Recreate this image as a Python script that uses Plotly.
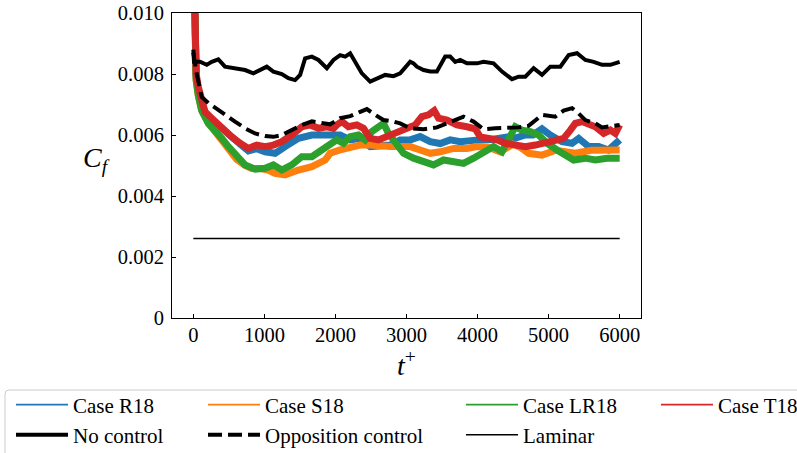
import plotly.graph_objects as go

# ---- skin-friction histories C_f(t+) ----
t_nc = [0, 10, 94, 189, 259, 352, 446, 587, 728, 845, 939, 1034, 1127, 1245, 1338, 1432,
        1503, 1573, 1668, 1761, 1879, 1972, 2066, 2137, 2207, 2277, 2372, 2489, 2583, 2700,
        2817, 2911, 3052, 3099, 3146, 3240, 3334, 3428, 3545, 3615, 3686, 3756, 3850, 3991,
        4085, 4225, 4344, 4485, 4577, 4672, 4789, 4907, 5024, 5165, 5282, 5400, 5517, 5634,
        5752, 5869, 6000]
cf_nc = [0.0088, 0.0084, 0.0084, 0.0083, 0.0084, 0.00848, 0.00824, 0.00819, 0.00813, 0.00802,
         0.00813, 0.00824, 0.00808, 0.0080, 0.00786, 0.0078, 0.00797, 0.00851, 0.00857, 0.00846,
         0.00819, 0.00846, 0.00862, 0.00857, 0.00868, 0.0084, 0.00802, 0.00775, 0.00786, 0.00797,
         0.00793, 0.00802, 0.0084, 0.00835, 0.00824, 0.00813, 0.00808, 0.00808, 0.00857, 0.00857,
         0.0084, 0.00846, 0.00835, 0.00835, 0.0084, 0.00835, 0.00808, 0.00783, 0.00791, 0.00791,
         0.00819, 0.00797, 0.00824, 0.00824, 0.00862, 0.00868, 0.00846, 0.0084, 0.0083, 0.0083,
         0.0084]

t_oc = [0, 48, 118, 211, 306, 446, 587, 728, 869, 1010, 1127, 1245, 1386, 1527, 1668, 1808,
        1925, 2066, 2207, 2348, 2442, 2559, 2676, 2817, 2911, 3052, 3240, 3428, 3615, 3803,
        3944, 4085, 4249, 4390, 4577, 4718, 4813, 4907, 5094, 5211, 5330, 5422, 5517, 5658,
        5752, 5893, 6000]
cf_oc = [0.0087, 0.0080, 0.00725, 0.00705, 0.0069, 0.00666, 0.00644, 0.00622, 0.00605, 0.00597,
         0.00594, 0.0060, 0.00616, 0.00633, 0.00645, 0.0064, 0.00635, 0.00655, 0.00662, 0.00676,
         0.00685, 0.00666, 0.00649, 0.00644, 0.00638, 0.00622, 0.00619, 0.00625, 0.00644, 0.0066,
         0.00644, 0.00619, 0.00622, 0.00622, 0.00625, 0.0063, 0.00649, 0.00666, 0.0066, 0.0068,
         0.00688, 0.00671, 0.00649, 0.00638, 0.00625, 0.0063, 0.00633]

t_r18 = [0, 15, 40, 70, 118, 165, 259, 352, 446, 540, 658, 775, 892, 1010, 1151, 1292, 1479,
         1668, 1855, 1972, 2066, 2207, 2348, 2489, 2630, 2770, 2911, 3052, 3193, 3334, 3475,
         3615, 3756, 3897, 4014, 4200, 4437, 4531, 4672, 4780, 4907, 5024, 5188, 5330, 5423,
         5563, 5704, 5845, 6000]
cf_r18 = [0.0128, 0.0087, 0.0079, 0.0075, 0.0070, 0.0067, 0.0065, 0.0063, 0.0061, 0.0059,
          0.0057, 0.00548, 0.00555, 0.00545, 0.0054, 0.00562, 0.00589, 0.0060, 0.0060, 0.00605,
          0.0060, 0.00584, 0.00589, 0.00562, 0.00562, 0.00567, 0.00584, 0.00584, 0.00595, 0.00578,
          0.00572, 0.00584, 0.00578, 0.00584, 0.00584, 0.00585, 0.00594, 0.0059, 0.0060, 0.0060,
          0.0062, 0.0060, 0.00578, 0.00573, 0.00589, 0.00562, 0.00562, 0.00551, 0.00584]

t_s18 = [0, 15, 40, 70, 118, 211, 306, 400, 493, 611, 728, 822, 950, 1050, 1151, 1292, 1479,
         1668, 1855, 1925, 2066, 2207, 2348, 2489, 2630, 2770, 2911, 3052, 3193, 3334, 3475,
         3662, 3850, 3991, 4150, 4320, 4500, 4600, 4718, 4907, 5100, 5376, 5600, 5800, 6000]
cf_s18 = [0.0126, 0.0086, 0.0078, 0.0073, 0.0068, 0.0064, 0.0061, 0.0058, 0.0055, 0.0052,
          0.0050, 0.0049, 0.0049, 0.00485, 0.00474, 0.00469, 0.00485, 0.00496, 0.00518, 0.0054,
          0.00551, 0.00562, 0.00567, 0.00567, 0.00562, 0.00562, 0.00562, 0.00562, 0.00551, 0.0054,
          0.00545, 0.00556, 0.00556, 0.00562, 0.0056, 0.00545, 0.0057, 0.0056, 0.0054, 0.00534,
          0.0055, 0.0054, 0.0055, 0.0055, 0.00551]

t_lr18 = [0, 15, 40, 70, 118, 211, 306, 400, 493, 611, 728, 869, 1010, 1127, 1245, 1386, 1527,
          1668, 1808, 1949, 2019, 2113, 2207, 2324, 2418, 2512, 2630, 2676, 2747, 2864, 2958,
          3099, 3240, 3380, 3521, 3662, 3803, 3944, 4108, 4225, 4343, 4437, 4531, 4625, 4742,
          4859, 4977, 5118, 5235, 5352, 5517, 5658, 5822, 6000]
cf_lr18 = [0.0125, 0.0086, 0.0078, 0.0073, 0.0068, 0.00638, 0.00616, 0.00589, 0.00562, 0.00529,
           0.00502, 0.00488, 0.00491, 0.00502, 0.00485, 0.00502, 0.00529, 0.00529, 0.00551, 0.00573,
           0.00584, 0.00573, 0.00594, 0.0060, 0.00584, 0.00611, 0.00627, 0.00638, 0.00605, 0.00573,
           0.0054, 0.00524, 0.00513, 0.00502, 0.00518, 0.00513, 0.00507, 0.00524, 0.00545, 0.00562,
           0.00545, 0.00584, 0.00627, 0.00616, 0.00611, 0.0060, 0.00573, 0.00551, 0.00534, 0.00518,
           0.00524, 0.00518, 0.00524, 0.00524]

t_t18 = [0, 15, 40, 70, 118, 165, 259, 352, 446, 540, 658, 775, 892, 1010, 1127, 1245, 1386,
         1527, 1644, 1761, 1879, 1972, 2019, 2090, 2183, 2301, 2394, 2489, 2606, 2724, 2864,
         3005, 3123, 3216, 3310, 3390, 3451, 3569, 3710, 3850, 3968, 4038, 4155, 4273, 4390,
         4531, 4672, 4813, 4954, 5094, 5211, 5306, 5376, 5470, 5563, 5658, 5775, 5869, 5939, 6000]
cf_t18 = [0.0130, 0.0088, 0.0080, 0.00758, 0.00704, 0.00676, 0.00655, 0.00633, 0.00616, 0.00594,
          0.00573, 0.00556, 0.00567, 0.00562, 0.00567, 0.00578, 0.0060, 0.00627, 0.00633, 0.00622,
          0.00627, 0.00622, 0.00633, 0.00644, 0.00627, 0.00633, 0.00622, 0.00589, 0.00584, 0.00594,
          0.00611, 0.00622, 0.00633, 0.0066, 0.00666, 0.0068, 0.00655, 0.00649, 0.00633, 0.00627,
          0.0062, 0.00594, 0.00589, 0.00584, 0.00573, 0.00567, 0.00562, 0.00567, 0.00573, 0.00584,
          0.00589, 0.00616, 0.00638, 0.00644, 0.00638, 0.00627, 0.00605, 0.00616, 0.00605, 0.00633]

t_lam = [0, 6000]
cf_lam = [0.00261, 0.00261]

x_ticks = [0, 1000, 2000, 3000, 4000, 5000, 6000]
y_ticks = [0, 0.002, 0.004, 0.006, 0.008, 0.010]
y_tick_text = ["0", "0.002", "0.004", "0.006", "0.008", "0.010"]

C_BLUE, C_ORANGE, C_GREEN, C_RED = "#1f77b4", "#ff7f0e", "#2ca02c", "#d62728"
SERIF = "'Liberation Serif', 'Times New Roman', Times, serif"
W, H = 797, 453

fig = go.Figure()

# curves (no legend entries; the legend uses its own thin samples)
curves = [
    (t_r18, cf_r18, dict(color=C_BLUE, width=7)),
    (t_s18, cf_s18, dict(color=C_ORANGE, width=7)),
    (t_lr18, cf_lr18, dict(color=C_GREEN, width=7)),
    (t_t18, cf_t18, dict(color=C_RED, width=7)),
    (t_nc, cf_nc, dict(color="black", width=4)),
    (t_oc, cf_oc, dict(color="black", width=4, dash="14px,6px")),
    (t_lam, cf_lam, dict(color="black", width=1.5)),
]
for tx, cy, ln in curves:
    fig.add_trace(go.Scatter(x=tx, y=cy, mode="lines", line=ln, showlegend=False,
                             hoverinfo="skip"))

# legend entries: (name, line style, column x px, row y px)
entries = [
    ("Case R18", dict(color=C_BLUE, width=1.8), 11, 405),
    ("Case S18", dict(color=C_ORANGE, width=1.8), 203, 405),
    ("Case LR18", dict(color=C_GREEN, width=1.8), 461, 405),
    ("Case T18", dict(color=C_RED, width=1.8), 656, 405),
    ("No control", dict(color="black", width=4), 11, 435),
    ("Opposition control", dict(color="black", width=4, dash="14px,6px"), 203, 435),
    ("Laminar", dict(color="black", width=1.5), 461, 435),
]
layout_legends = {}
for i, (name, ln, lx, ly) in enumerate(entries):
    key = "legend" if i == 0 else f"legend{i + 1}"
    fig.add_trace(go.Scatter(x=[None], y=[None], mode="lines", line=ln, name=name,
                             legend=key, showlegend=True))
    layout_legends[key] = dict(
        xref="container", yref="container", x=lx / W, y=1 - ly / H,
        xanchor="left", yanchor="middle", orientation="v",
        bgcolor="rgba(0,0,0,0)", borderwidth=0, itemwidth=52,
        font=dict(family=SERIF, size=21, color="black"),
    )

# plot area geometry (px)
L, R, T, B = 172, 641, 13, 318
pw, ph = R - L, B - T

def px(xp):
    return (xp - L) / pw

def py(yp):
    return (B - yp) / ph

# legend frame with rounded top-left corner
x0, y0, x1, y1, r = px(5), py(390), px(830), py(480), 4
fig.add_shape(type="path", xref="paper", yref="paper",
              path=(f"M {x0},{y1} L {x0},{py(390 + r)} Q {x0},{y0} {px(5 + r)},{y0} "
                    f"L {x1},{y0} L {x1},{y1} Z"),
              line=dict(color="#cccccc", width=1), fillcolor="rgba(255,255,255,0.8)",
              layer="below")

axis_common = dict(showline=True, linecolor="black", linewidth=1, mirror=True,
                   ticks="inside", ticklen=4, tickwidth=1, tickcolor="black",
                   showgrid=False, zeroline=False,
                   tickfont=dict(family=SERIF, size=20.5, color="black"))

fig.update_layout(
    width=W, height=H,
    margin=dict(l=L, r=W - R, t=T, b=H - B, autoexpand=False),
    paper_bgcolor="white", plot_bgcolor="white",
    xaxis=dict(range=[-300, 6300], tickvals=x_ticks, ticklabelstandoff=-2, **axis_common),
    yaxis=dict(range=[0, 0.010], tickvals=y_ticks, ticktext=y_tick_text,
               ticklabelstandoff=3, **axis_common),
    annotations=[
        dict(text="<i>C</i><sub><i>f</i></sub>", xref="paper", yref="paper",
             x=px(96), y=py(159), xanchor="center", yanchor="middle", showarrow=False,
             font=dict(family=SERIF, size=28, color="black")),
        dict(text="<i>t</i><sup>+</sup>", xref="paper", yref="paper",
             x=px(406), y=py(364), xanchor="center", yanchor="middle", showarrow=False,
             font=dict(family=SERIF, size=28, color="black")),
    ],
    **layout_legends,
)

fig.write_html("out.html")
